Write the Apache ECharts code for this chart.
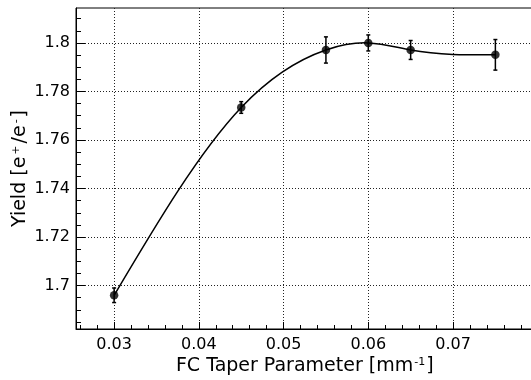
<!DOCTYPE html>
<html>
<head>
<meta charset="utf-8">
<script src="https://cdn.jsdelivr.net/npm/echarts@6/dist/echarts.min.js"></script>
<style>
html,body{margin:0;padding:0;background:#fff;}
#chart{width:531px;height:380px;}
</style>
</head>
<body>
<div id="chart"></div>
<script>
// Data
var taper = [0.03, 0.045, 0.055, 0.06, 0.065, 0.075];
var yieldVals = [1.696, 1.7734, 1.7971, 1.8000, 1.7971, 1.7951];
var yieldErr = [0.0030, 0.0024, 0.0054, 0.0033, 0.0039, 0.0063];

// Axis ticks
var xMajor = [0.03, 0.04, 0.05, 0.06, 0.07];
var xMinor = [0.026, 0.028, 0.032, 0.034, 0.036, 0.038, 0.042, 0.044, 0.046, 0.048,
              0.052, 0.054, 0.056, 0.058, 0.062, 0.064, 0.066, 0.068, 0.072, 0.074, 0.076, 0.078];
var yMajor = [1.70, 1.72, 1.74, 1.76, 1.78, 1.80];
var yMinor = [1.685, 1.69, 1.695, 1.705, 1.71, 1.715, 1.725, 1.73, 1.735, 1.745, 1.75, 1.755,
              1.765, 1.77, 1.775, 1.785, 1.79, 1.795, 1.805, 1.81];
var xRange = [0.0255, 0.0795];
var yRange = [1.6821, 1.8144];

var FONT = '"DejaVu Sans", "Liberation Sans", Arial, sans-serif';

var points = taper.map(function (x, i) { return [x, yieldVals[i]]; });
var errData = taper.map(function (x, i) { return [x, yieldVals[i] - yieldErr[i], yieldVals[i] + yieldErr[i]]; });

// Natural cubic spline slopes (curve drawn through the data points)
var n = taper.length;
var h = [], M = new Array(n).fill(0);
for (var i = 0; i < n - 1; i++) h.push(taper[i + 1] - taper[i]);
(function () {
  var a = [], b = [], c = [], d = [];
  for (var i = 1; i < n - 1; i++) {
    a.push(h[i - 1]); b.push(2 * (h[i - 1] + h[i])); c.push(h[i]);
    d.push(6 * ((yieldVals[i + 1] - yieldVals[i]) / h[i] - (yieldVals[i] - yieldVals[i - 1]) / h[i - 1]));
  }
  var m = b.length;
  for (var k = 1; k < m; k++) {
    var w = a[k] / b[k - 1];
    b[k] -= w * c[k - 1];
    d[k] -= w * d[k - 1];
  }
  var sol = new Array(m);
  sol[m - 1] = d[m - 1] / b[m - 1];
  for (var k2 = m - 2; k2 >= 0; k2--) sol[k2] = (d[k2] - c[k2] * sol[k2 + 1]) / b[k2];
  for (var k3 = 0; k3 < m; k3++) M[k3 + 1] = sol[k3];
})();
function segSlopes(i) {
  var s = (yieldVals[i + 1] - yieldVals[i]) / h[i];
  return [s - h[i] * (2 * M[i] + M[i + 1]) / 6, s + h[i] * (M[i] + 2 * M[i + 1]) / 6];
}

var chart = echarts.init(document.getElementById('chart'), null, { renderer: 'canvas' });
chart.setOption({
  animation: false,
  backgroundColor: '#fff',
  grid: { left: 76, top: 8, width: 457.5, height: 321, outerBoundsMode: 'none', containLabel: false,
          show: true, borderColor: '#000', borderWidth: 1, backgroundColor: 'transparent' },
  xAxis: [
    {
      type: 'value', min: xRange[0], max: xRange[1], position: 'bottom',
      axisLine: { show: true, lineStyle: { color: '#000', width: 1 } },
      axisTick: { show: true, inside: true, length: 7, customValues: xMajor, lineStyle: { color: '#000' } },
      axisLabel: { customValues: xMajor, color: '#000', fontSize: 16, fontFamily: FONT, margin: 8,
        formatter: function (v) { return v.toFixed(2); } },
      splitLine: { show: true, lineStyle: { color: '#222', width: 1, type: [1, 2] } },
      name: 'FC Taper Parameter [mm{s|-1}]',
      nameLocation: 'middle', nameGap: 28, nameMoveOverlap: false,
      nameTextStyle: { color: '#000', fontSize: 19, fontFamily: FONT,
        rich: { s: { fontSize: 11, fontFamily: FONT, color: '#000', verticalAlign: 'top', padding: [0, 1, 6, 1] } } }
    },
    {
      type: 'value', min: xRange[0], max: xRange[1], position: 'bottom',
      axisLine: { show: false },
      axisTick: { show: true, inside: true, length: 4, customValues: xMinor, lineStyle: { color: '#000' } },
      axisLabel: { show: false },
      splitLine: { show: false }
    }
  ],
  yAxis: [
    {
      type: 'value', min: yRange[0], max: yRange[1], position: 'left',
      axisLine: { show: true, lineStyle: { color: '#000', width: 1 } },
      axisTick: { show: true, inside: true, length: 9, customValues: yMajor, lineStyle: { color: '#000' } },
      axisLabel: { customValues: yMajor, color: '#000', fontSize: 16, fontFamily: FONT, margin: 6,
        formatter: function (v) { return String(+v.toFixed(2)); } },
      splitLine: { show: true, lineStyle: { color: '#222', width: 1, type: [1, 2] } },
      name: 'Yield [e{s|+}/e{s|-}]',
      nameLocation: 'middle', nameGap: 46, nameRotate: 90, nameMoveOverlap: false,
      nameTextStyle: { color: '#000', fontSize: 19, fontFamily: FONT,
        rich: { s: { fontSize: 11, fontFamily: FONT, color: '#000', verticalAlign: 'top', padding: [0, 2, 6, 2] } } }
    },
    {
      type: 'value', min: yRange[0], max: yRange[1], position: 'left',
      axisLine: { show: false },
      axisTick: { show: true, inside: true, length: 5, customValues: yMinor, lineStyle: { color: '#000' } },
      axisLabel: { show: false },
      splitLine: { show: false }
    }
  ],
  series: [
    {
      type: 'custom', xAxisIndex: 0, yAxisIndex: 0,
      data: points,
      renderItem: function (params, api) {
        var i = params.dataIndex;
        if (i >= n - 1) return { type: 'group', children: [] };
        var sl = segSlopes(i);
        var x0 = taper[i], x1 = taper[i + 1], y0 = yieldVals[i], y1 = yieldVals[i + 1], hh = h[i];
        var p0 = api.coord([x0, y0]);
        var c1 = api.coord([x0 + hh / 3, y0 + sl[0] * hh / 3]);
        var c2 = api.coord([x1 - hh / 3, y1 - sl[1] * hh / 3]);
        var p1 = api.coord([x1, y1]);
        return {
          type: 'bezierCurve',
          shape: { x1: p0[0], y1: p0[1], cpx1: c1[0], cpy1: c1[1], cpx2: c2[0], cpy2: c2[1], x2: p1[0], y2: p1[1] },
          style: { stroke: '#000', fill: null, lineWidth: 1.5 }
        };
      },
      z: 3
    },
    {
      type: 'custom', xAxisIndex: 0, yAxisIndex: 0,
      data: errData,
      renderItem: function (params, api) {
        var x = api.value(0);
        var lo = api.coord([x, api.value(1)]);
        var hi = api.coord([x, api.value(2)]);
        var cw = 2;
        var style = { stroke: '#000', lineWidth: 1.5 };
        return {
          type: 'group',
          children: [
            { type: 'line', shape: { x1: lo[0], y1: lo[1], x2: hi[0], y2: hi[1] }, style: style },
            { type: 'line', shape: { x1: lo[0] - cw, y1: lo[1], x2: lo[0] + cw, y2: lo[1] }, style: style },
            { type: 'line', shape: { x1: hi[0] - cw, y1: hi[1], x2: hi[0] + cw, y2: hi[1] }, style: style }
          ]
        };
      },
      z: 4
    },
    {
      type: 'scatter', xAxisIndex: 0, yAxisIndex: 0,
      data: points, symbol: 'circle', symbolSize: 8.5,
      itemStyle: { color: '#000' },
      z: 5
    }
  ]
});
</script>
</body>
</html>
